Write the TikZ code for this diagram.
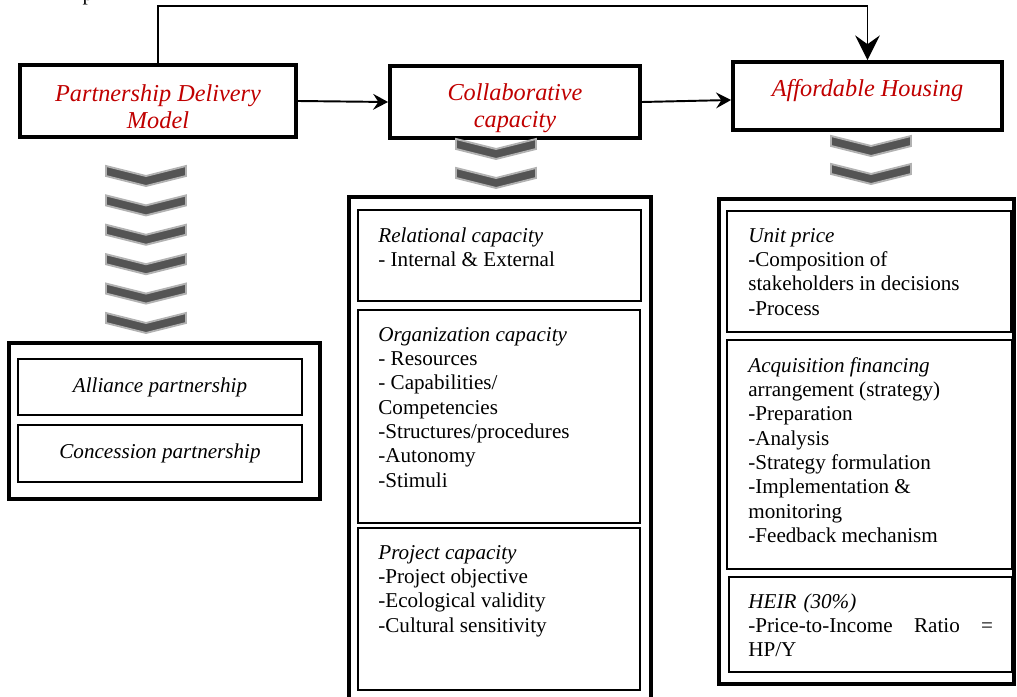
\documentclass[tikz,border=0pt]{standalone}
\usepackage{fontspec}
\setmainfont{Liberation Serif}
\usetikzlibrary{arrows.meta,calc,fit,positioning}
\tikzset{>={Stealth[length=8.5pt,width=9pt,inset=3pt]}}
\definecolor{titlered}{RGB}{192,0,0}
\definecolor{chevdark}{RGB}{84,84,84}
\definecolor{chevrim}{RGB}{178,178,178}

\begin{document}
\begin{tikzpicture}[x=0.568pt,y=-0.568pt,
    headbox/.style={draw,line width=2.2pt,inner sep=0pt},
    groupbox/.style={draw,line width=2.8pt,inner sep=0pt},
    itembox/.style={draw,line width=0.7pt,inner sep=0pt},
    headtext/.style={text=titlered,font=\fontsize{13.8}{15.4}\selectfont\itshape,align=center,inner sep=0pt},
    itemtext/.style={font=\fontsize{12}{13.8}\selectfont,align=left,anchor=north west,inner sep=0pt},
    link/.style={->,line width=1.1pt},
    chevron/.pic={\draw[fill=chevdark,draw=chevrim,line width=1.1pt]
      (-40,1) -- (0,11) -- (40,1) -- (40,11) -- (0,21) -- (-40,11) -- cycle;}]
  \useasboundingbox (0,0) rectangle (1017,697);
  % cut-off caption above the picture
  \node[font=\fontsize{12}{13.8}\selectfont,anchor=base,inner sep=0pt] (cut) at (88,1) {p};
  %
  % the three headings
  \node[headbox,fit={(20,65) (296,137)}] (pdm) {};
  \node[headbox,fit={(390,66) (640,138)}] (collab) {};
  \node[headbox,fit={(733,62) (1002,130)}] (ah) {};
  \node[headtext] (pdmtxt) at ($(pdm.center)+(0,6)$) {Partnership Delivery\\Model};
  \node[headtext] (collabtxt) at ($(collab.center)+(0,6)$) {Collaborative\\capacity};
  \node[headtext] (ahtxt) at ($(ah.center)+(0,-5)$) {Affordable Housing};
  %
  \draw[link] (pdm.east) -- (collab.west);
  \draw[link] (collab.east) -- ($(ah.west)+(0,4)$);
  \draw[line width=1.1pt,-{Stealth[length=14pt,width=14pt,inset=5pt]}]
    (pdm.north) -- ++(0,-57) -| (ah.north);
  %
  % left group
  \node[groupbox,fit={(9,343) (320,499)}] (models) {};
  \node[itembox,fit={(18,359) (302,415)}] (alli) {};
  \node[itembox,fit={(18,425) (302,482)}] (conc) {};
  \node[itemtext,anchor=center,font=\fontsize{12}{13.8}\selectfont\itshape] (allitxt) at (alli.center) {Alliance partnership};
  \node[itemtext,anchor=center,font=\fontsize{12}{13.8}\selectfont\itshape] (conctxt) at (conc.center) {Concession partnership};
  %
  % middle group
  \node[groupbox,fit={(349,197) (651,705)}] (capac) {};
  \node[itembox,fit={(358,210) (641,301)}] (rel) {};
  \node[itembox,fit={(358,310) (640,523)}] (org) {};
  \node[itembox,fit={(358,528) (640,690)}] (proj) {};
  \node[itemtext] (reltxt) at (378,227) {\textit{Relational capacity}\\- Internal \& External};
  \node[itemtext] (orgtxt) at (378,327) {\textit{Organization capacity}\\- Resources\\- Capabilities/\\Competencies\\-Structures/procedures\\-Autonomy\\-Stimuli};
  \node[itemtext] (projtxt) at (378,545) {\textit{Project capacity}\\-Project objective\\-Ecological validity\\-Cultural sensitivity};
  %
  % right group
  \node[groupbox,fit={(719,199) (1014,684)}] (housing) {};
  \node[itembox,fit={(727,211) (1011,332)}] (unit) {};
  \node[itembox,fit={(727,340) (1012,569)}] (acq) {};
  \node[itembox,fit={(729,577) (1012,672)}] (heir) {};
  \node[itemtext] (unittxt) at (748,228) {\textit{Unit price}\\-Composition of\\stakeholders in decisions\\-Process};
  \node[itemtext] (acqtxt) at (748,357) {\textit{Acquisition financing}\\arrangement (strategy)\\-Preparation\\-Analysis\\-Strategy formulation\\-Implementation \&\\monitoring\\-Feedback mechanism};
  \node[itemtext,text width=139pt] (heirtxt) at (748,593) {\textit{HEIR (30\%)}\\-Price-to-Income\hfill Ratio\hfill =\\HP/Y};
  %
  % chevrons
  \foreach \k in {0,...,5}
    \pic at (146,165+29.4*\k) {chevron};
  \foreach \k in {0,1} {
    \pic at (496,138+29*\k) {chevron};
    \pic at (871,135+28*\k) {chevron};
  }
\end{tikzpicture}
\end{document}
